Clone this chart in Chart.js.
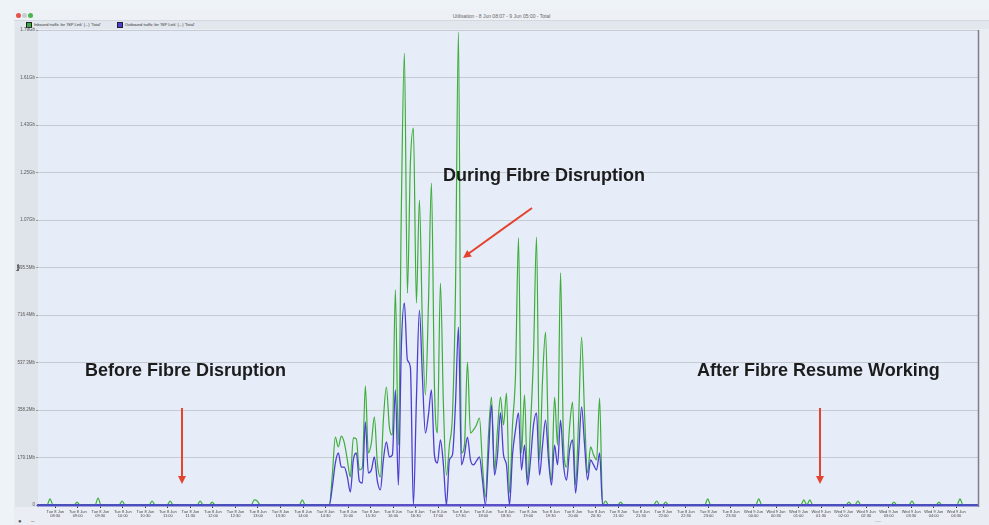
<!DOCTYPE html>
<html>
<head>
<meta charset="utf-8">
<script src="https://cdn.jsdelivr.net/npm/chart.js@4.4.1/dist/chart.umd.min.js"></script>
<style>
html,body{margin:0;padding:0;background:#eef3f8;}
#wrap{position:relative;width:989px;height:525px;overflow:hidden;font-family:'Liberation Sans',Arial,sans-serif;}
#win{position:absolute;left:14px;top:9px;width:975px;height:516px;background:#eaeef4;border-radius:4px 0 0 0;}
#titlebar{position:absolute;left:14px;top:9px;width:975px;height:11px;background:#edf0f5;border-bottom:1px solid #d4d9e1;border-radius:4px 0 0 0;}
#title{position:absolute;left:14px;width:975px;top:13px;text-align:center;font-size:5px;color:#666;}
.dot{position:absolute;top:13px;width:5px;height:5px;border-radius:50%;}
#legendrow{position:absolute;left:15px;top:21px;width:974px;height:8px;background:#e2e7ee;}
#legend{position:absolute;left:26px;top:21px;height:7px;font-size:4px;color:#333;display:flex;align-items:center;gap:16px;white-space:nowrap;}
#legend .sw{display:inline-block;width:4px;height:4px;border:1px solid #223;margin-right:2px;vertical-align:middle;}
#bottombar{position:absolute;left:15px;top:519px;width:974px;height:6px;font-size:6px;color:#555;}
canvas{position:absolute;left:0;top:0;}
svg{position:absolute;left:0;top:0;}
.note{position:absolute;font-weight:bold;font-size:18px;line-height:1;color:#1c1c1c;white-space:nowrap;}
</style>
</head>
<body>
<div id="wrap">
  <div id="win"></div>
  <div id="titlebar"></div>
  <div class="dot" style="left:16px;background:#e5534b"></div>
  <div class="dot" style="left:22px;background:#c9ced6"></div>
  <div class="dot" style="left:28px;background:#4fb34f"></div>
  <div id="title">Utilisation - 8 Jun 08:07 - 9 Jun 05:00 - Total</div>
  <div id="legendrow"></div>
  <div id="legend"></div>
  <div id="bottombar"><span style="position:absolute;left:3px;top:-1px">&#9679;</span><span style="position:absolute;left:16px;top:-1px">&#8211;</span><span style="position:absolute;left:860px;top:-2px;color:#999">&#8943;</span></div>
  <canvas id="c" width="989" height="525"></canvas>
  <svg width="989" height="525">
    <g stroke="#e4432d" stroke-width="2" fill="none">
      <line x1="182" y1="408" x2="182" y2="477"/>
      <line x1="820" y1="408" x2="820" y2="477"/>
      <line x1="532" y1="208" x2="468" y2="254"/>
    </g>
    <g fill="#e4432d">
      <polygon points="178,476 186,476 182,484"/>
      <polygon points="816,476 824,476 820,484"/>
      <polygon points="471.8,256.5 467.2,250.1 463,258"/>
    </g>
  </svg>
  <div class="note" style="left:85px;top:361px">Before Fibre Disruption</div>
  <div class="note" style="left:443px;top:166px">During Fibre Disruption</div>
  <div class="note" style="left:697px;top:361px">After Fibre Resume Working</div>
</div>
<script>
// ---- data (Mbps), one sample every 4 minutes starting 08:07 ----
const sampleMinutes = 4;
const seriesLabels = ["Inbound traffic for 'ISP Link' (...) 'Total'", "Outbound traffic for 'ISP Link' (...) 'Total'"];
const seriesColors = ['#3ead3a', '#4b40cf'];

const inbound = [
  0,0,0,0,23,0,0,0,0,0,
  0,0,0,11,0,0,0,0,0,0,
  26,0,0,0,0,0,0,0,15,0,
  0,0,0,0,0,0,0,0,15,0,
  0,0,0,0,15,0,0,0,0,0,
  0,0,0,0,15,0,0,0,11,0,
  0,0,0,0,0,0,0,0,0,0,
  0,0,19,15,0,0,0,0,0,0,
  0,0,0,0,0,0,0,0,19,0,
  0,0,0,0,0,0,0,0,113,256,
  219,260,234,170,106,253,249,132,143,449,
  196,234,332,158,106,320,445,294,264,811,
  226,1131,1704,799,1290,1421,762,1150,679,415,
  754,1214,452,271,837,377,113,226,339,799,
  1783,196,226,539,271,283,302,328,151,30,
  264,407,132,283,407,302,422,45,302,490,
  1007,196,415,94,302,566,1010,170,471,652,
  226,94,407,226,875,226,143,294,388,75,
  320,633,339,121,219,189,170,403,0,15,
  0,0,0,0,11,0,0,0,0,0,
  0,0,0,0,0,0,15,0,0,11,
  0,0,0,0,0,0,0,0,0,0,
  0,0,0,23,0,0,0,0,0,0,
  0,0,0,0,0,0,0,0,0,0,
  23,0,0,0,0,0,0,0,0,0,
  0,0,0,0,0,19,0,19,0,0,
  0,0,0,0,0,0,0,0,0,0,
  11,0,0,15,0,0,0,0,0,0,
  0,0,0,0,0,11,0,0,0,0,
  0,15,0,0,0,0,0,0,0,0,
  11,0,0,0,0,0,0,23,0,0,
  0,0,0,0
];

const outbound = [
  0,0,0,0,0,0,0,0,0,0,
  0,0,0,0,0,0,0,0,0,0,
  0,0,0,0,0,0,0,0,0,0,
  0,0,0,0,0,0,0,0,0,0,
  0,0,0,0,0,0,0,0,0,0,
  0,0,0,0,0,0,0,0,0,0,
  0,0,0,0,0,0,0,0,0,0,
  0,0,0,0,0,0,0,0,0,0,
  0,0,0,0,0,0,0,0,0,0,
  0,0,0,0,0,0,0,0,68,158,
  196,143,143,106,49,170,196,90,83,313,
  121,132,181,90,57,170,238,181,189,434,
  75,603,762,547,520,0,396,735,483,271,
  339,434,189,158,245,151,0,170,189,377,
  671,151,189,256,170,151,166,181,94,0,
  189,377,113,189,347,189,151,0,189,283,
  347,132,226,75,170,302,347,113,226,320,
  170,75,226,151,320,151,94,207,245,45,
  189,370,226,94,170,151,132,196,0,0,
  0,0,0,0,0,0,0,0,0,0,
  0,0,0,0,0,0,0,0,0,0,
  0,0,0,0,0,0,0,0,0,0,
  0,0,0,0,0,0,0,0,0,0,
  0,0,0,0,0,0,0,0,0,0,
  0,0,0,0,0,0,0,0,0,0,
  0,0,0,0,0,0,0,0,0,0,
  0,0,0,0,0,0,0,0,0,0,
  0,0,0,0,0,0,0,0,0,0,
  0,0,0,0,0,0,0,0,0,0,
  0,0,0,0,0,0,0,0,0,0,
  0,0,0,0,0,0,0,0,0,0,
  0,0,0,0
];

// y axis ticks (Mbps) and labels
const yMax = 1791;
const yStep = 179.1;
const yTickLabels = ['0','179.1Mb','358.2Mb','537.3Mb','716.4Mb','895.5Mb','1.07Gb','1.25Gb','1.43Gb','1.61Gb','1.79Gb'];

// x axis ticks: every 30 minutes, first one 23 minutes after start (08:30)
const firstTickMinute = 23;
const tickStepMinutes = 30;
const tickDates = [
  'Tue 8 Jun','Tue 8 Jun','Tue 8 Jun','Tue 8 Jun','Tue 8 Jun','Tue 8 Jun','Tue 8 Jun','Tue 8 Jun','Tue 8 Jun','Tue 8 Jun',
  'Tue 8 Jun','Tue 8 Jun','Tue 8 Jun','Tue 8 Jun','Tue 8 Jun','Tue 8 Jun','Tue 8 Jun','Tue 8 Jun','Tue 8 Jun','Tue 8 Jun',
  'Tue 8 Jun','Tue 8 Jun','Tue 8 Jun','Tue 8 Jun','Tue 8 Jun','Tue 8 Jun','Tue 8 Jun','Tue 8 Jun','Tue 8 Jun','Tue 8 Jun',
  'Tue 8 Jun','Wed 9 Jun','Wed 9 Jun','Wed 9 Jun','Wed 9 Jun','Wed 9 Jun','Wed 9 Jun','Wed 9 Jun','Wed 9 Jun','Wed 9 Jun',
  'Wed 9 Jun'
];
const tickTimes = [
  '08:30','09:00','09:30','10:00','10:30','11:00','11:30','12:00','12:30','13:00',
  '13:30','14:00','14:30','15:00','15:30','16:00','16:30','17:00','17:30','18:00',
  '18:30','19:00','19:30','20:00','20:30','21:00','21:30','22:00','22:30','23:00',
  '23:30','00:00','00:30','01:00','01:30','02:00','02:30','03:00','03:30','04:00',
  '04:30'
];

// ---- legend (html) ----
const legendEl = document.getElementById('legend');
seriesLabels.forEach((lab, k) => {
  const s = document.createElement('span');
  s.innerHTML = '<span class="sw" style="background:' + seriesColors[k] + '"></span>' + lab.replace(/</g,'&lt;');
  legendEl.appendChild(s);
});

const toPoints = arr => arr.map((v, i) => ({x: i * sampleMinutes, y: v}));
const family = "'Liberation Sans', Arial, sans-serif";

const bgPlugin = {
  id: 'bg',
  beforeDraw(chart) {
    const {ctx, chartArea: a} = chart;
    ctx.save();
    ctx.fillStyle = '#dfe4eb';
    ctx.fillRect(15, a.top - 2, a.left - 15, a.bottom - a.top + 4);
    ctx.fillStyle = '#e6edf9';
    ctx.fillRect(a.left, a.top, a.right - a.left, a.bottom - a.top);
    ctx.restore();
  },
  afterDraw(chart) {
    const {ctx, chartArea: a} = chart;
    ctx.save();
    ctx.strokeStyle = '#7d8088';
    ctx.lineWidth = 1.5;
    ctx.beginPath();
    ctx.moveTo(a.right + 0.5, a.top);
    ctx.lineTo(a.right + 0.5, a.bottom + 2);
    ctx.stroke();
    ctx.restore();
  }
};

new Chart(document.getElementById('c'), {
  type: 'line',
  data: {
    datasets: [
      {label: seriesLabels[0], data: toPoints(inbound), borderColor: seriesColors[0], borderWidth: 1.2,
       pointRadius: 0, cubicInterpolationMode: 'monotone', order: 1, clip: 3},
      {label: seriesLabels[1], data: toPoints(outbound), borderColor: seriesColors[1], borderWidth: 1.3,
       pointRadius: 0, cubicInterpolationMode: 'monotone', order: 0, clip: 3}
    ]
  },
  options: {
    responsive: false,
    animation: false,
    devicePixelRatio: 1,
    layout: {padding: {left: 15, right: 11, top: 30, bottom: 4}},
    plugins: {legend: {display: false}, tooltip: {enabled: false}},
    scales: {
      x: {
        type: 'linear',
        min: 0,
        max: (inbound.length - 1) * sampleMinutes,
        afterBuildTicks: s => { s.ticks = tickTimes.map((_, k) => ({value: firstTickMinute + k * tickStepMinutes})); },
        afterFit: s => { s.height = 16; },
        grid: {drawOnChartArea: false, drawTicks: true, tickLength: 3, tickColor: '#333', tickWidth: 1},
        border: {color: '#5b50c8', width: 2.5},
        ticks: {autoSkip: false, maxRotation: 0, minRotation: 0, font: {family: family, size: 4}, color: '#444', padding: 1,
                callback: (v, i) => [tickDates[i], tickTimes[i]]}
      },
      y: {
        min: 0,
        max: yMax,
        afterBuildTicks: s => { s.ticks = yTickLabels.map((_, k) => ({value: k * yStep})); },
        afterFit: s => { s.width = 23; },
        grid: {color: '#c6cad2', lineWidth: 1, tickLength: 2, tickColor: '#999'},
        border: {display: false},
        ticks: {font: {family: family, size: 4.5}, color: '#555', padding: 1, callback: (v, i) => yTickLabels[i]},
        title: {display: true, text: 'bps', font: {family: family, size: 4, weight: 'bold'}, color: '#222', padding: 0}
      }
    }
  },
  plugins: [bgPlugin]
});
</script>
</body>
</html>
